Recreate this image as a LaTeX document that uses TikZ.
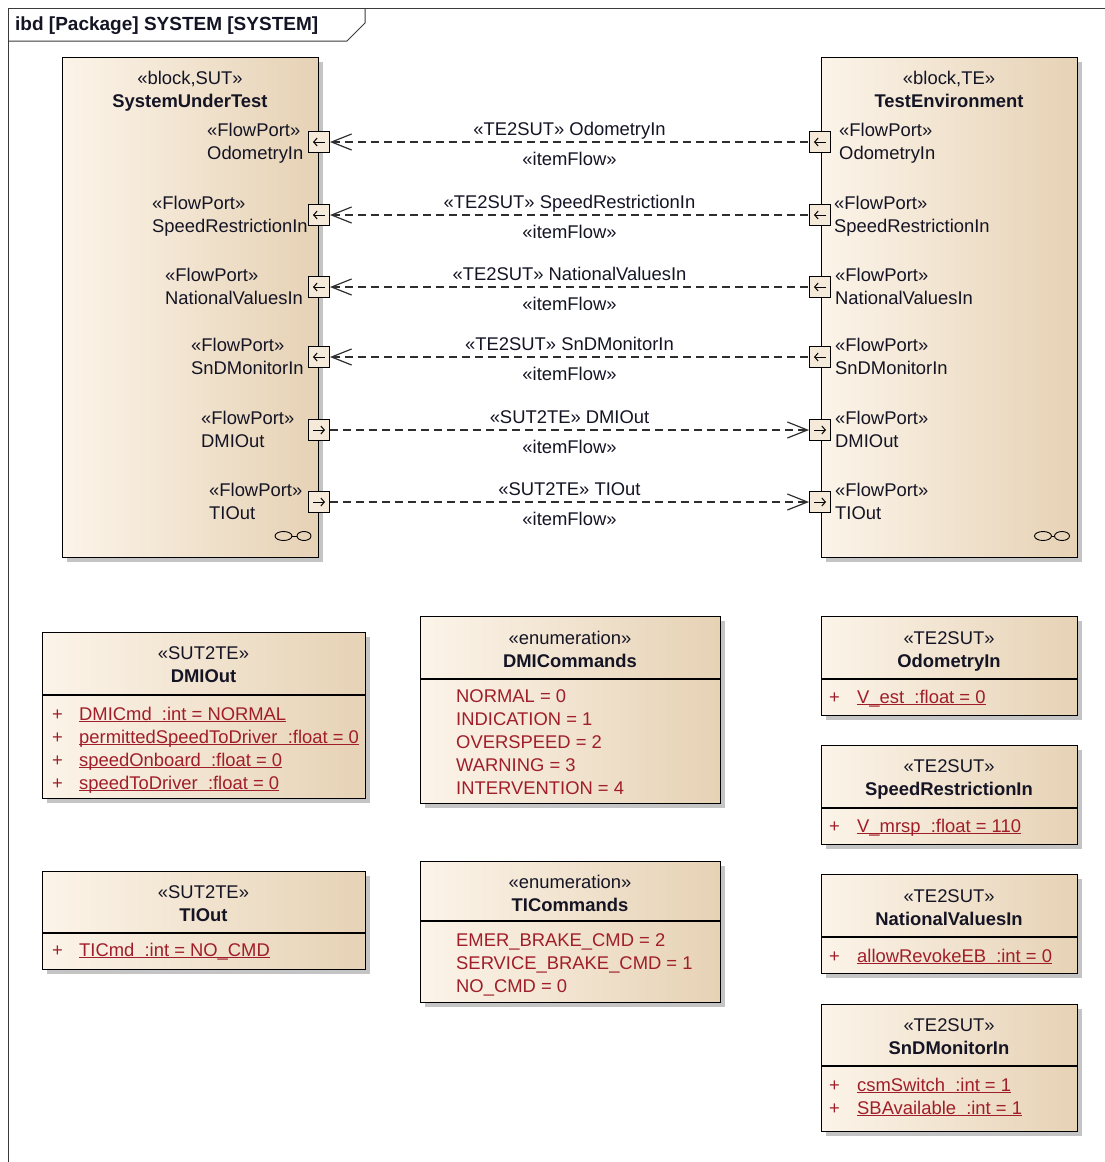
\documentclass[tikz,border=0pt]{standalone}
\usepackage{fontspec}
\setmainfont{Liberation Sans}
\usetikzlibrary{arrows.meta}

\definecolor{ink}{HTML}{141424}
\definecolor{attrred}{HTML}{A01E29}
\definecolor{fillL}{HTML}{FCF4E9}
\definecolor{fillR}{HTML}{E6D2B5}
\definecolor{shadowgray}{HTML}{C4C4C4}
\definecolor{framegray}{HTML}{3A3A3A}
\definecolor{portfill}{HTML}{F5EADA}
\definecolor{flowgray}{HTML}{2E2E2E}

\newcommand\dfont{\fontsize{18.4}{23}\selectfont}
\newcommand\attrline[1]{\underline{\smash{#1}}}

% box with a drop shadow: name, left, top, right, bottom
\newcommand\umlbox[5]{%
  \fill[shadowgray] (#2+5,#3+5) rectangle (#4+5,#5+5);
  \node[umlshape, minimum width=#4-#2, minimum height=#5-#3] (#1) at (#2,#3) {};
}

\begin{document}
\begin{tikzpicture}[x=1pt,y=-1pt,
  txt/.style={font=\dfont, text=ink, inner sep=0pt},
  bold/.style={font=\dfont\bfseries, text=ink, inner sep=0pt},
  lit/.style={font=\dfont, text=attrred, inner sep=0pt, anchor=base west},
  umlshape/.style={draw=black, line width=1.1pt, left color=fillL, right color=fillR,
    inner sep=0pt, anchor=north west},
  divider/.style={draw=black, line width=1.1pt},
  portbox/.style={draw=black, line width=1pt, fill=portfill, minimum size=21pt, inner sep=0pt},
  portarrow/.style={line width=1pt, -{Straight Barb[length=3.5pt,width=8pt,line width=1pt]}},
  flow/.style={draw=flowgray, line width=1.2pt, dash pattern=on 8pt off 5pt},
  headL/.style={{Straight Barb[length=20pt,width=16pt,line width=1.2pt]}-},
  headR/.style={-{Straight Barb[length=20pt,width=16pt,line width=1.2pt]}},
  infty/.style={draw=black, line width=0.9pt},
]
\useasboundingbox (0,0) rectangle (1105,1162);
\fill[white] (0,0) rectangle (1105,1162);

% diagram frame and its name tab
\draw[framegray, line width=1pt] (8,1162) -- (8,8) -- (1105,8);
\draw[framegray, line width=1pt] (8,41) -- (347,41) -- (365,23) -- (365,8);
\node[font=\fontsize{19}{23}\selectfont\bfseries, text=ink, inner sep=0pt, anchor=base west]
  (title) at (15,30) {ibd [Package] SYSTEM [SYSTEM]};

% the two blocks
\umlbox{sut}{62}{57}{318}{557}
\umlbox{te}{821}{57}{1077}{557}
\node[txt, anchor=base] (sutst) at (190,84) {«block,SUT»};
\node[bold, anchor=base] (sutnm) at (190,107) {SystemUnderTest};
\node[txt, anchor=base] (test) at (949,84) {«block,TE»};
\node[bold, anchor=base] (tenm) at (949,107) {TestEnvironment};

% part symbols
\draw[infty] (283.5,536) ellipse [x radius=8.5, y radius=4.5];
\draw[infty] (304,536) ellipse [x radius=7, y radius=4.5];
\draw[infty] (292,536) -- (297,536);
\draw[infty] (1043,536) ellipse [x radius=8.5, y radius=4.5];
\draw[infty] (1062,536) ellipse [x radius=7.5, y radius=4.5];
\draw[infty] (1051.5,536) -- (1054.5,536);

% flow ports, their labels and item flows
\foreach \i/\y/\nm/\sx/\tx in {
  1/142/OdometryIn/207/839,
  2/215/SpeedRestrictionIn/152/834,
  3/287/NationalValuesIn/165/835,
  4/357/SnDMonitorIn/191/835,
  5/430/DMIOut/201/835,
  6/502/TIOut/209/835} {
  \node[portbox] (sp\i) at (319,\y) {};
  \node[portbox] (tp\i) at (820,\y) {};
  \node[txt, anchor=base west] (sla\i) at (\sx,\y-6) {«FlowPort»};
  \node[txt, anchor=base west] (slb\i) at (\sx,\y+17) {\nm};
  \node[txt, anchor=base west] (tla\i) at (\tx,\y-6) {«FlowPort»};
  \node[txt, anchor=base west] (tlb\i) at (\tx,\y+17) {\nm};
}
\foreach \i in {1,2,3,4} {
  \draw[portarrow] ([xshift=6pt]sp\i.center) -- ([xshift=-6pt]sp\i.center);
  \draw[portarrow] ([xshift=6pt]tp\i.center) -- ([xshift=-6pt]tp\i.center);
}
\foreach \i in {5,6} {
  \draw[portarrow] ([xshift=-6pt]sp\i.center) -- ([xshift=6pt]sp\i.center);
  \draw[portarrow] ([xshift=-6pt]tp\i.center) -- ([xshift=6pt]tp\i.center);
}
\foreach \i/\lab in {1/OdometryIn, 2/SpeedRestrictionIn, 3/NationalValuesIn, 4/SnDMonitorIn} {
  \draw[flow, headL] (sp\i.east) -- (tp\i.west)
    node[txt, midway, anchor=base, yshift=7pt] (fa\i) {«TE2SUT» \lab}
    node[txt, midway, anchor=base, yshift=-23pt] (fb\i) {«itemFlow»};
}
\foreach \i/\lab in {5/DMIOut, 6/TIOut} {
  \draw[flow, headR] (sp\i.east) -- (tp\i.west)
    node[txt, midway, anchor=base, yshift=7pt] (fa\i) {«SUT2TE» \lab}
    node[txt, midway, anchor=base, yshift=-23pt] (fb\i) {«itemFlow»};
}

% ---- signal classes ----
% DMIOut
\umlbox{dmiout}{42}{632}{365}{798}
\draw[divider] (42,695) -- (365,695);
\node[txt, anchor=base] (dmioutst) at (203.5,659) {«SUT2TE»};
\node[bold, anchor=base] (dmioutnm) at (203.5,682) {DMIOut};
\foreach \k/\y/\a in {1/720/DMICmd~~:int = NORMAL,
                      2/743/permittedSpeedToDriver~~:float = 0,
                      3/766/speedOnboard~~:float = 0,
                      4/789/speedToDriver~~:float = 0} {
  \node[lit] (dmioutv\k) at (52,\y) {+};
  \node[lit] (dmiouta\k) at (79,\y) {\attrline{\a}};
}

% TIOut
\umlbox{tiout}{42}{871}{365}{969}
\draw[divider] (42,933) -- (365,933);
\node[txt, anchor=base] (tioutst) at (203.5,898) {«SUT2TE»};
\node[bold, anchor=base] (tioutnm) at (203.5,921) {TIOut};
\node[lit] (tioutv1) at (52,956) {+};
\node[lit] (tiouta1) at (79,956) {\attrline{TICmd~~:int = NO\_CMD}};

% DMICommands
\umlbox{dmicmds}{420}{616}{720}{803}
\draw[divider] (420,679) -- (720,679);
\node[txt, anchor=base] (dmicmdsst) at (570,644) {«enumeration»};
\node[bold, anchor=base] (dmicmdsnm) at (570,667) {DMICommands};
\foreach \k/\y/\a in {1/702/NORMAL = 0, 2/725/INDICATION = 1, 3/748/OVERSPEED = 2,
                      4/771/WARNING = 3, 5/794/INTERVENTION = 4} {
  \node[lit] (dmicmdsl\k) at (456,\y) {\a};
}

% TICommands
\umlbox{ticmds}{420}{861}{720}{1002}
\draw[divider] (420,921) -- (720,921);
\node[txt, anchor=base] (ticmdsst) at (570,888) {«enumeration»};
\node[bold, anchor=base] (ticmdsnm) at (570,911) {TICommands};
\node[lit] (ticmdsl1) at (456,946) {EMER\_BRAKE\_CMD = 2};
\node[lit] (ticmdsl2) at (456,969) {SERVICE\_BRAKE\_CMD = 1};
\node[lit] (ticmdsl3) at (456,992) {NO\_CMD = 0};

% OdometryIn
\umlbox{odo}{821}{616}{1077}{715}
\draw[divider] (821,679) -- (1077,679);
\node[txt, anchor=base] (odost) at (949,644) {«TE2SUT»};
\node[bold, anchor=base] (odonm) at (949,667) {OdometryIn};
\node[lit] (odov1) at (829,703) {+};
\node[lit] (odoa1) at (857,703) {\attrline{V\_est~~:float = 0}};

% SpeedRestrictionIn
\umlbox{speed}{821}{745}{1077}{844}
\draw[divider] (821,808) -- (1077,808);
\node[txt, anchor=base] (speedst) at (949,772) {«TE2SUT»};
\node[bold, anchor=base] (speednm) at (949,795) {SpeedRestrictionIn};
\node[lit] (speedv1) at (829,832) {+};
\node[lit] (speeda1) at (857,832) {\attrline{V\_mrsp~~:float = 110}};

% NationalValuesIn
\umlbox{natval}{821}{874}{1077}{973}
\draw[divider] (821,937) -- (1077,937);
\node[txt, anchor=base] (natvalst) at (949,902) {«TE2SUT»};
\node[bold, anchor=base] (natvalnm) at (949,925) {NationalValuesIn};
\node[lit] (natvalv1) at (829,962) {+};
\node[lit] (natvala1) at (857,962) {\attrline{allowRevokeEB~~:int = 0}};

% SnDMonitorIn
\umlbox{snd}{821}{1004}{1077}{1131}
\draw[divider] (821,1066) -- (1077,1066);
\node[txt, anchor=base] (sndst) at (949,1031) {«TE2SUT»};
\node[bold, anchor=base] (sndnm) at (949,1054) {SnDMonitorIn};
\node[lit] (sndv1) at (829,1091) {+};
\node[lit] (snda1) at (857,1091) {\attrline{csmSwitch~~:int = 1}};
\node[lit] (sndv2) at (829,1114) {+};
\node[lit] (snda2) at (857,1114) {\attrline{SBAvailable~~:int = 1}};
\end{tikzpicture}
\end{document}
